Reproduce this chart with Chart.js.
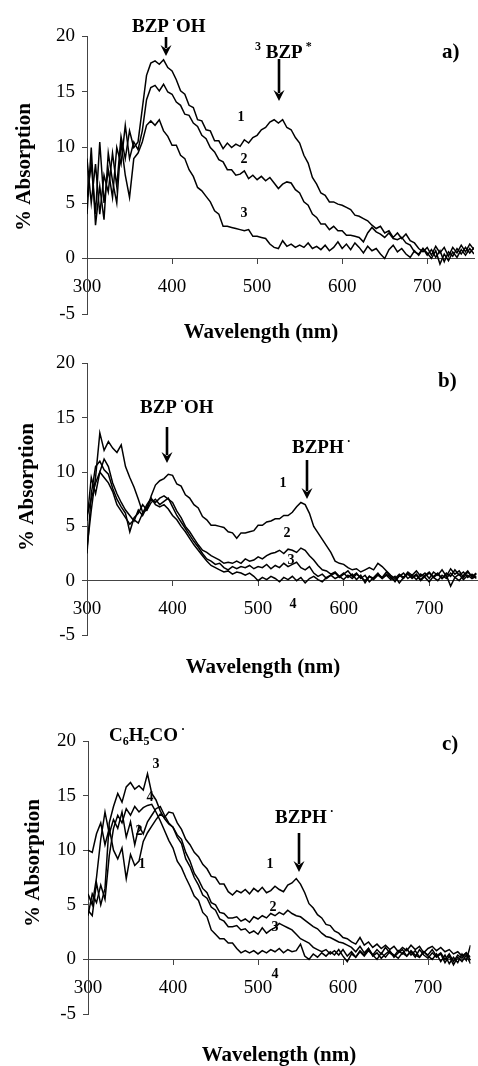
<!DOCTYPE html>
<html>
<head>
<meta charset="utf-8">
<script src="https://cdn.jsdelivr.net/npm/chart.js@4.4.1/dist/chart.umd.min.js"></script>
<style>
  html, body { margin: 0; padding: 0; background: #fff; }
  body { width: 478px; height: 1066px; position: relative; overflow: hidden; }
  .panel { position: absolute; left: 0; width: 478px; }
  .panel canvas { display: block; }
</style>
</head>
<body>
<div class="panel" style="top:0;height:345px"><canvas id="chartA" width="478" height="345"></canvas></div>
<div class="panel" style="top:345px;height:345px"><canvas id="chartB" width="478" height="345"></canvas></div>
<div class="panel" style="top:690px;height:376px"><canvas id="chartC" width="478" height="376"></canvas></div>
<script>
// wavelength grid (nm), shared by every trace
const wavelengths = [
  300, 305, 310, 315, 320, 325, 330, 335, 340, 345,
  350, 355, 360, 365, 370, 375, 380, 385, 390, 395,
  400, 405, 410, 415, 420, 425, 430, 435, 440, 445,
  450, 455, 460, 465, 470, 475, 480, 485, 490, 495,
  500, 505, 510, 515, 520, 525, 530, 535, 540, 545,
  550, 555, 560, 565, 570, 575, 580, 585, 590, 595,
  600, 605, 610, 615, 620, 625, 630, 635, 640, 645,
  650, 655, 660, 665, 670, 675, 680, 685, 690, 695,
  700, 705, 710, 715, 720, 725, 730, 735, 740, 745,
  750, 755
];
const xTickValues = [300, 400, 500, 600, 700];
const yTickValues = [-5, 0, 5, 10, 15, 20];

// panel a) - % absorption, traces 1..3
const a1 = [
  9.0, 5.0, 8.5, 4.0, 7.5, 6.0, 9.5, 6.5, 11.0, 9.0,
  11.5, 10.0, 10.5, 13.5, 16.5, 17.6, 17.8, 17.5, 17.9, 17.2,
  16.9, 16.1, 15.1, 14.8, 13.8, 13.6, 12.5, 12.4, 11.6, 11.5,
  10.6, 10.6, 9.9, 10.4, 10.0, 10.3, 10.1, 10.7, 10.4, 10.9,
  11.1, 11.6, 11.8, 12.3, 12.5, 12.2, 12.5, 11.8, 11.6, 10.9,
  10.4, 9.3, 8.6, 7.3, 6.7, 5.9, 5.7, 5.1, 5.1, 4.9,
  4.8, 4.6, 4.4, 3.9, 3.8, 3.6, 3.4, 3.0, 2.7, 2.9,
  2.3, 2.5, 1.9, 2.3, 1.8, 2.2, 1.6, 1.4, 0.9, 0.6,
  1.0, 0.3, 1.1, 0.5, 1.0, 0.2, 1.0, 0.5, 1.2, 0.6,
  1.3, 0.8
];
const a2 = [
  5.5, 8.5, 4.0, 10.5, 5.0, 8.0, 5.5, 10.0, 8.5, 12.0,
  9.0, 10.5, 9.8, 11.5, 14.3, 15.4, 15.6, 15.1, 15.7, 15.0,
  14.8, 14.1, 13.8, 13.0, 12.9, 12.2, 11.9, 11.1, 10.8, 10.0,
  9.6, 8.9, 8.7, 8.0, 8.0, 7.5, 7.6, 7.9, 7.2, 7.5,
  7.1, 7.4, 7.0, 7.3, 6.8, 6.3, 6.7, 6.9, 6.8, 6.2,
  5.9, 5.1, 4.8, 4.0, 3.7, 3.1, 3.1, 2.6, 2.9, 2.5,
  2.5, 2.1, 2.1, 2.0, 1.9, 1.5, 2.3, 2.8, 2.4, 2.2,
  1.9, 2.3, 1.8, 1.7, 1.9, 1.4, 1.2, 0.6, 0.4, 0.9,
  0.3, 0.8, 0.1, 0.7, -0.3, 0.6, 0.2, 0.9, 0.4, 1.0,
  0.5, 1.0
];
const a3 = [
  4.0, 10.0, 3.0, 6.5, 3.5, 9.5, 7.0, 5.0, 10.5, 7.5,
  5.5, 9.0, 9.5, 10.5, 12.0, 12.4, 12.0, 12.5, 11.5, 11.0,
  10.2, 10.2, 9.3, 9.0, 8.0, 7.4, 6.4, 6.1, 5.6, 5.1,
  4.3, 4.0, 2.9, 2.9, 2.8, 2.7, 2.6, 2.5, 2.6, 2.0,
  2.0, 1.9, 1.8, 1.3, 1.0, 0.9, 1.6, 1.1, 1.3, 1.0,
  1.2, 1.0, 1.4, 0.9, 1.1, 0.8, 1.2, 0.7, 1.0, 1.5,
  0.9, 1.3, 0.8, 1.4, 1.0, 0.5, 1.1, 0.7, 0.9, 0.4,
  0.0, 0.8, 1.2, 0.6, 0.9, 0.4, 0.1, 0.7, 0.3, 0.9,
  0.5, 0.0, 0.7, -0.5, 0.4, -0.2, 0.6, 0.1, 0.8, 0.3,
  0.9, 0.4
];

// panel b) - traces 1..4
const b1 = [
  3.0, 6.5, 9.5, 13.6, 12.0, 12.8, 12.2, 11.8, 12.5, 10.5,
  9.5, 8.6, 7.5, 6.3, 6.5, 7.8, 8.8, 9.2, 9.4, 9.8,
  9.7, 8.9, 8.7, 7.9, 7.6, 7.0, 6.7, 5.9, 5.6, 5.1,
  5.1, 5.0, 4.9, 4.5, 4.4, 3.9, 4.4, 4.4, 4.5, 4.6,
  5.1, 5.1, 5.4, 5.5, 5.7, 5.7, 6.0, 6.0, 6.3, 6.8,
  7.2, 7.0, 6.2, 5.0, 4.4, 3.8, 3.2, 2.6, 1.8, 1.6,
  1.5, 1.2, 1.0, 1.1, 0.8, 1.0, 1.2, 1.0, 1.6, 1.3,
  0.9, 0.5, 0.2, 0.6, 0.3, 0.8, 0.5, 0.9, 0.4, 0.7,
  0.2, 0.8, 0.5, 1.0, 0.4, 1.1, 0.6, 0.9, 0.3, 0.8,
  0.4, 0.7
];
const b2 = [
  6.0, 7.5, 9.0, 10.0, 11.2, 10.5, 9.0, 8.0, 7.2, 6.5,
  6.0, 5.5, 6.5, 6.0, 6.8, 7.5, 7.2, 7.6, 7.8, 7.5,
  7.2, 6.4, 5.8, 5.0, 4.5, 3.9, 3.3, 2.8, 2.6, 2.3,
  2.1, 1.9, 1.6, 1.7, 1.6, 1.8, 1.6, 2.0, 1.8, 1.9,
  2.2, 2.0, 2.3, 2.5, 2.6, 2.8, 2.5, 2.9, 2.8, 2.6,
  3.0, 2.8, 2.3, 1.9, 1.4, 1.0, 0.9, 0.6, 0.8, 0.4,
  0.7, 0.3, 0.6, 0.1, 0.5, -0.2, 0.4, 0.2, 0.6, 0.3,
  0.8, 0.4, -0.1, 0.5, 0.2, 0.7, 0.3, 0.6, 0.1, 0.5,
  0.8, 0.3, 0.6, 0.2, 0.7, 0.4, 1.0, 0.5, 0.8, 0.3,
  0.6, 0.2
];
const b3 = [
  2.5, 8.0, 10.5, 11.0, 10.2, 9.8, 8.5, 7.5, 6.8, 6.2,
  4.5, 5.8, 6.2, 7.0, 6.5, 7.2, 7.5, 7.0, 7.3, 7.6,
  6.8, 6.0, 5.4, 4.8, 4.2, 3.6, 3.1, 2.5, 2.0, 1.8,
  1.5, 1.6, 1.2, 1.0, 1.3, 1.1, 1.3, 1.2, 1.4, 1.1,
  1.3, 1.2, 1.5, 1.1, 1.4, 1.2, 1.6, 1.3, 1.5, 1.7,
  1.2, 1.0, 1.3, 0.7, 0.4, 0.6, 0.2, 0.5, 0.7, 0.3,
  0.6, 0.9, 0.4, 0.7, 0.2, 0.5, -0.1, 0.3, 0.7, 0.2,
  0.5, 0.1, 0.4, -0.2, 0.3, 0.6, 0.2, 0.5, 0.0, 0.4,
  0.7, 0.3, 0.0, 0.5, 0.2, 0.7, 0.3, 0.0, 0.5, 0.9,
  0.3, 0.6
];
const b4 = [
  5.5, 9.5, 8.0, 10.0, 9.5, 9.0, 8.2, 7.0, 6.4, 5.8,
  5.2, 5.6, 5.3, 6.2, 7.0, 7.6, 7.0, 6.8, 7.0, 6.6,
  6.0, 5.6, 5.0, 4.5, 3.9, 3.3, 2.8, 2.3, 1.8, 1.4,
  1.2, 1.0, 0.8, 0.9, 0.6, 0.8, 0.7, 0.5, 0.7, 0.4,
  0.0, 0.3, 0.1, 0.4, 0.2, -0.1, 0.3, 0.1, 0.4, 0.0,
  0.3, -0.2, 0.2, 0.4, 0.1, -0.1, 0.3, 0.5, 0.2, 0.4,
  0.1, 0.5, 0.2, 0.6, 0.3, 0.0, 0.4, 0.1, 0.5, 0.2,
  0.6, 0.3, 0.0, 0.4, 0.7, 0.2, 0.5, 0.1, 0.6, 0.3,
  -0.1, 0.4, 0.7, 0.2, 0.5, -0.5, 0.3, 0.6, 0.1, 0.5,
  0.2, 0.4
];

// panel c) - traces 1..4
const c1 = [
  10.0, 9.8, 11.5, 12.5, 10.5, 12.0, 10.0, 9.2, 10.2, 7.4,
  9.6, 8.6, 9.0, 10.8, 11.6, 12.2, 12.8, 13.3, 13.0, 13.5,
  13.4, 12.5, 11.9, 11.0, 10.5, 9.8, 9.4, 8.7, 8.3, 7.6,
  7.5, 6.9, 6.9, 6.2, 5.9, 6.3, 6.1, 6.4, 6.0, 6.5,
  6.2, 6.6, 6.1, 6.3, 6.7, 6.4, 6.2, 6.8, 7.0, 7.4,
  6.9, 6.1, 5.1, 4.7, 4.1, 3.8, 3.2, 3.1, 2.6, 2.4,
  2.0, 1.9, 1.6, 1.4, 2.0, 1.3, 1.6, 1.1, 1.4, 1.0,
  1.3, 0.9, 1.2, 0.7, 1.1, 0.8, 1.3, 0.9, 1.2, 0.6,
  1.0, 1.2, 0.8, 1.1, 0.7, 0.9, 0.5, 0.7, 0.3, 0.6,
  0.2, 0.4
];
const c2 = [
  6.0, 5.0, 7.5, 11.0, 13.5, 11.5, 12.8, 12.0, 13.5, 11.2,
  12.6, 10.5, 12.2, 11.5, 12.6, 13.2, 13.8, 14.0, 13.2, 12.5,
  12.1, 11.4, 11.0, 9.8, 9.0, 7.9, 7.3, 6.5, 6.1, 5.2,
  5.0, 4.3, 4.2, 3.8, 3.8, 3.9, 3.5, 3.7, 3.4, 3.9,
  3.7, 4.0, 3.8, 4.2, 4.0, 4.3, 4.1, 4.5, 4.2, 4.0,
  3.9, 3.6, 3.3, 3.0, 2.8, 2.4, 2.1, 2.0, 1.8, 1.6,
  1.5, 1.3, 1.1, 0.7, 1.2, 0.6, 1.0, 0.4, 0.9, 0.5,
  1.1, 0.6, 0.3, 0.8, 0.5, 1.0, 0.4, 0.8, 0.2, 0.7,
  0.4, 0.9, 0.3, 0.6, 0.0, 0.5, -0.2, 0.4, 0.1, 0.6,
  -0.1, 0.3
];
const c3 = [
  4.5, 4.0, 7.0, 5.0, 6.5, 12.5, 14.0, 15.2, 14.4, 15.8,
  16.2, 15.6, 15.9, 15.5, 17.0, 15.2, 14.6, 13.6, 12.9, 12.4,
  12.1, 11.2, 10.6, 9.2, 8.5, 7.5, 6.8, 5.9, 5.6, 4.8,
  4.5, 3.7, 3.5, 3.0, 3.0, 3.1, 2.7, 2.8, 2.4, 2.6,
  2.3, 2.9, 2.4, 2.7, 2.9, 3.3, 3.1, 2.9, 2.7, 2.3,
  1.9, 1.7, 1.5, 1.1, 0.9, 0.7, 0.9, 0.5, 0.8, 0.4,
  0.9, 0.3, 0.7, 0.2, 0.8, 0.4, 1.0, 0.3, 0.6, 0.1,
  0.5, 0.8, 0.2, 0.6, 0.9, 0.3, 0.7, 0.2, 0.9, 0.4,
  0.1, 0.6, 0.2, 0.5, -0.3, 0.3, -0.5, 0.2, -0.2, 0.4,
  -0.4, 0.2
];
const c4 = [
  4.0, 6.0, 5.2, 6.8, 5.5, 9.5, 12.0, 13.2, 12.5, 13.8,
  13.2, 14.0, 13.5, 13.9, 14.1, 14.2, 13.5, 12.7, 11.8, 10.9,
  10.2, 9.0, 8.4, 7.5, 6.7, 5.8, 5.4, 4.3, 3.9, 2.7,
  2.3, 1.9, 1.9, 1.5, 1.5, 1.0, 0.6, 0.8, 0.6, 0.8,
  0.5, 0.8, 0.6, 0.9, 0.7, 1.0, 0.6, 0.9, 0.7, 0.8,
  1.4, 0.3, 0.0, 0.5, 0.2, 0.6, 0.3, 0.7, 0.4, 0.9,
  0.3, -0.2, 0.5, 0.2, 0.7, 0.3, 0.8, 0.4, 0.0, 0.6,
  0.2, 0.7, 0.4, 0.1, 0.6, 0.3, 0.8, 0.4, 0.2, 0.7,
  0.3, 0.0, 0.5, -0.2, 0.4, -0.4, 0.2, -0.3, 0.5, -0.1,
  1.3, 0.5
];

const SERIF = '"Liberation Serif", "Times New Roman", serif';

// text made of pieces, some raised or lowered (superscript dot, subscripts)
function richText(ctx, x, y, parts, size) {
  let cx = x;
  parts.forEach(([t, kind]) => {
    const s = kind ? Math.round(size * 0.62) : size;
    const dy = kind === 'sup' ? -size * 0.42 : kind === 'sub' ? size * 0.2 : 0;
    ctx.font = 'bold ' + s + 'px ' + SERIF;
    ctx.fillText(t, cx, y + dy);
    cx += ctx.measureText(t).width;
  });
}

function arrowDown(ctx, x, y1, y2) {
  ctx.lineWidth = 2.6;
  ctx.beginPath();
  ctx.moveTo(x, y1);
  ctx.lineTo(x, y2 - 8);
  ctx.stroke();
  ctx.beginPath();
  ctx.moveTo(x - 5.5, y2 - 11);
  ctx.lineTo(x, y2 - 7);
  ctx.lineTo(x + 5.5, y2 - 11);
  ctx.lineTo(x, y2);
  ctx.closePath();
  ctx.fill();
}

function notesPlugin(notes) {
  return {
    id: 'notes',
    afterDraw(chart) {
      const ctx = chart.ctx;
      ctx.save();
      ctx.fillStyle = '#000';
      ctx.strokeStyle = '#000';
      ctx.textAlign = 'left';
      ctx.textBaseline = 'alphabetic';
      notes.rich.forEach(r => richText(ctx, r[0], r[1], r[2], 19));
      notes.arrows.forEach(a => arrowDown(ctx, a[0], a[1], a[2]));
      ctx.font = 'bold 21px ' + SERIF;
      ctx.fillText(notes.tag[0], notes.tag[1], notes.tag[2]);

      ctx.textAlign = 'center';
      ctx.textBaseline = 'middle';
      ctx.font = 'bold 14px ' + SERIF;
      notes.nums.forEach(n => ctx.fillText(n[0], n[1], n[2]));

      ctx.font = 'bold 21px ' + SERIF;
      ctx.fillText('Wavelength (nm)', notes.xTitle[0], notes.xTitle[1]);
      ctx.translate(notes.yTitle[0], notes.yTitle[1]);
      ctx.rotate(-Math.PI / 2);
      ctx.fillText('% Absorption', 0, 0);
      ctx.restore();
    }
  };
}

function makePanel(id, series, frame, notes) {
  const axisLine = { display: true, color: '#444', width: 1 };
  const tickMarks = { display: true, drawOnChartArea: false, drawTicks: true, tickLength: 5, color: '#444', lineWidth: 1 };
  const tickFont = { family: SERIF, size: 19 };
  return new Chart(document.getElementById(id), {
    type: 'line',
    data: {
      datasets: series.map(vals => ({
        data: wavelengths.map((w, i) => ({ x: w, y: vals[i] })),
        borderColor: '#000',
        borderWidth: 1.5,
        pointRadius: 0,
        tension: 0,
        fill: false
      }))
    },
    options: {
      responsive: false,
      animation: false,
      events: [],
      layout: { padding: { left: 0, top: frame.top, right: frame.right, bottom: frame.bottom } },
      plugins: { legend: { display: false }, tooltip: { enabled: false } },
      scales: {
        x: {
          type: 'linear',
          min: 300,
          max: frame.xMax,
          position: { y: 0 },
          afterBuildTicks: s => { s.ticks = xTickValues.map(v => ({ value: v })); },
          afterFit: s => { s.height = 0; },
          grid: tickMarks,
          border: axisLine,
          ticks: { color: '#000', font: tickFont, padding: 12, maxRotation: 0, autoSkip: false }
        },
        y: {
          type: 'linear',
          min: -5,
          max: 20,
          position: 'left',
          afterBuildTicks: s => { s.ticks = yTickValues.map(v => ({ value: v })); },
          afterFit: s => { s.width = frame.left; },
          grid: tickMarks,
          border: axisLine,
          ticks: { color: '#000', font: tickFont, padding: 7 }
        }
      }
    },
    plugins: [notesPlugin(notes)]
  });
}

makePanel('chartA', [a1, a2, a3],
  { left: 87, top: 36.5, right: 4, bottom: 31, xMax: 755 },
  {
    rich: [
      [132, 32, [['BZP'], [' ·', 'sup'], ['OH']]],
      [255, 58, [['3', 'sup'], [' BZP'], [' *', 'sup']]]
    ],
    arrows: [[166, 37, 56], [279, 59, 101]],
    tag: ['a)', 442, 58],
    nums: [['1', 241, 117], ['2', 244, 159], ['3', 244, 213]],
    xTitle: [261, 333],
    yTitle: [25, 167]
  });

makePanel('chartB', [b1, b2, b3, b4],
  { left: 87, top: 16, right: 0, bottom: 55, xMax: 757 },
  {
    rich: [
      [140, 68, [['BZP'], [' ·', 'sup'], ['OH']]],
      [292, 108, [['BZPH'], [' ·', 'sup']]]
    ],
    arrows: [[167, 82, 118], [307, 115, 154]],
    tag: ['b)', 438, 42],
    nums: [['1', 283, 138], ['2', 287, 188], ['3', 291, 215], ['4', 293, 259]],
    xTitle: [263, 323],
    yTitle: [28, 142]
  });

makePanel('chartC', [c1, c2, c3, c4],
  { left: 88, top: 51, right: 7.5, bottom: 52, xMax: 750 },
  {
    rich: [
      [109, 51, [['C'], ['6', 'sub'], ['H'], ['5', 'sub'], ['CO'], [' ·', 'sup']]],
      [275, 133, [['BZPH'], [' ·', 'sup']]]
    ],
    arrows: [[299, 143, 182]],
    tag: ['c)', 442, 60],
    nums: [['3', 156, 74], ['4', 150, 107], ['2', 139, 141], ['1', 142, 174],
           ['1', 270, 174], ['2', 273, 217], ['3', 275, 237], ['4', 275, 284]],
    xTitle: [279, 366],
    yTitle: [34, 173]
  });
</script>
</body>
</html>
